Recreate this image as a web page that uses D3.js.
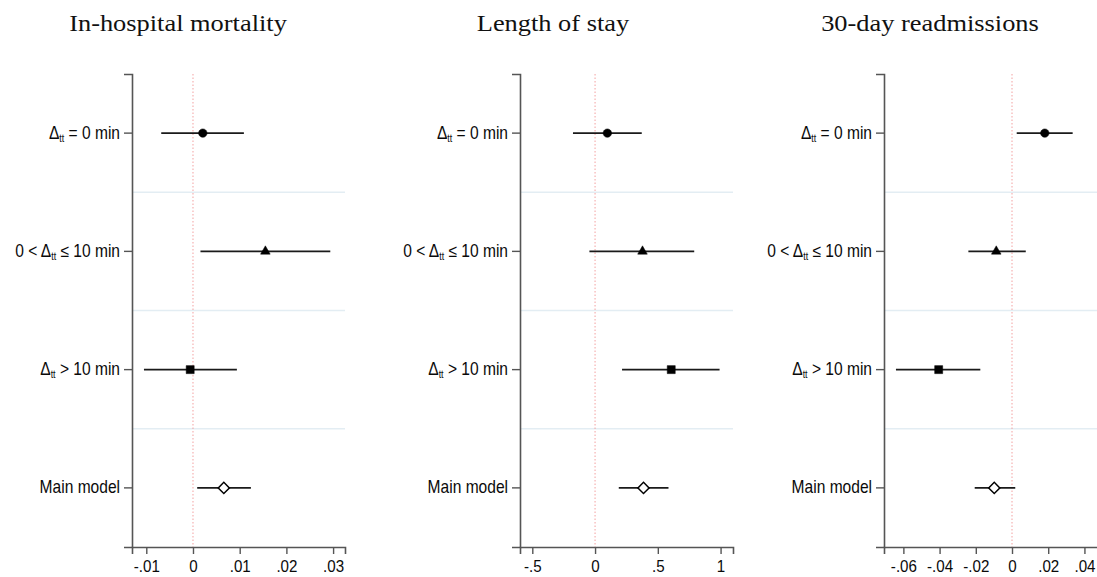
<!DOCTYPE html>
<html>
<head>
<meta charset="utf-8">
<script src="https://cdn.jsdelivr.net/npm/d3@7"></script>
<style>
  html, body { margin: 0; padding: 0; background: #fff; }
  svg { display: block; }
</style>
</head>
<body>
<div id="chart"></div>
<script>
// rows of the coefficient plot, top to bottom
const categories = ["eq0", "le10", "gt10", "main"];
const shapes = ["circle", "triangle", "square", "diamond"];

const titles = ["In-hospital mortality", "Length of stay", "30-day readmissions"];

// in-hospital mortality
const mortEst = [0.0021, 0.0155, -0.0006, 0.0066];
const mortLo = [-0.0068, 0.0016, -0.0105, 0.0009];
const mortHi = [0.0109, 0.0294, 0.0094, 0.0124];

// length of stay
const losEst = [0.098, 0.378, 0.607, 0.386];
const losLo = [-0.176, -0.045, 0.215, 0.189];
const losHi = [0.372, 0.790, 0.992, 0.585];

// 30-day readmissions
const readmEst = [0.0181, -0.0087, -0.0405, -0.0098];
const readmLo = [0.0026, -0.0241, -0.0641, -0.0206];
const readmHi = [0.0335, 0.0076, -0.0175, 0.0018];

const mortTicks = [-0.01, 0, 0.01, 0.02, 0.03];
const mortTickLabels = ["-.01", "0", ".01", ".02", ".03"];
const losTicks = [-0.5, 0, 0.5, 1];
const losTickLabels = ["-.5", "0", ".5", "1"];
const readmTicks = [-0.06, -0.04, -0.02, 0, 0.02, 0.04];
const readmTickLabels = ["-.06", "-.04", "-.02", "0", ".02", ".04"];

const width = 1097, height = 577;
const plotTop = 74, plotBottom = 547;
const squeeze = 0.89; // the sans labels are a bit condensed

const svg = d3.select("#chart").append("svg").attr("width", width).attr("height", height);

const panels = [
  { est: mortEst, lo: mortLo, hi: mortHi, ticks: mortTicks, labels: mortTickLabels, domain: [-0.01306, 0.03255], range: [132, 345], titleX: 178 },
  { est: losEst, lo: losLo, hi: losHi, ticks: losTicks, labels: losTickLabels, domain: [-0.598, 1.099], range: [520, 733], titleX: 553 },
  { est: readmEst, lo: readmLo, hi: readmHi, ticks: readmTicks, labels: readmTickLabels, domain: [-0.0707, 0.0486], range: [884, 1100], titleX: 930 }
];

function rowLabel(textSel, cat) {
  const t = textSel.text(null);
  const sub = (s) => t.append("tspan").attr("font-size", "10px").attr("dy", "3").text(s);
  const back = (s) => t.append("tspan").attr("dy", "-3").text(s);
  if (cat === "eq0") {
    t.append("tspan").text("\u0394"); sub("tt"); back(" = 0 min");
  } else if (cat === "le10") {
    t.append("tspan").text("0 < \u0394"); sub("tt"); back(" \u2264 10 min");
  } else if (cat === "gt10") {
    t.append("tspan").text("\u0394"); sub("tt"); back(" > 10 min");
  } else {
    t.append("tspan").text("Main model");
  }
}

const symbolOf = {
  circle: d3.symbol().type(d3.symbolCircle).size(56),
  triangle: d3.symbol().type(d3.symbolTriangle).size(40),
  square: d3.symbol().type(d3.symbolSquare).size(64),
  diamond: d3.symbol().type(d3.symbolSquare).size(62)
};

panels.forEach((p, pi) => {
  const g = svg.append("g");
  const x = d3.scaleLinear().domain(p.domain).range(p.range);
  const y = d3.scaleBand().domain(categories).range([plotTop, plotBottom]);
  const rows = categories.map((c, i) => ({ cat: c, shape: shapes[i], est: p.est[i], lo: p.lo[i], hi: p.hi[i] }));

  // separators between rows
  g.selectAll("line.sep").data(categories.slice(1)).join("line")
    .attr("class", "sep")
    .attr("x1", p.range[0]).attr("x2", p.range[1])
    .attr("y1", (d) => y(d)).attr("y2", (d) => y(d))
    .attr("stroke", "#e3edf3").attr("stroke-width", 1.5);

  // zero reference
  g.append("line")
    .attr("x1", x(0)).attr("x2", x(0)).attr("y1", plotTop).attr("y2", plotBottom)
    .attr("stroke", "#f3a0a0").attr("stroke-width", 1).attr("stroke-dasharray", "1.5,2");

  // confidence intervals
  g.selectAll("line.ci").data(rows).join("line")
    .attr("class", "ci")
    .attr("x1", (d) => x(d.lo)).attr("x2", (d) => x(d.hi))
    .attr("y1", (d) => y(d.cat) + y.bandwidth() / 2).attr("y2", (d) => y(d.cat) + y.bandwidth() / 2)
    .attr("stroke", "#1a1a1a").attr("stroke-width", 1.6);

  // point estimates
  g.selectAll("path.pt").data(rows).join("path")
    .attr("class", "pt")
    .attr("d", (d) => symbolOf[d.shape]())
    .attr("transform", (d) => `translate(${x(d.est)},${y(d.cat) + y.bandwidth() / 2})` + (d.shape === "diamond" ? " rotate(45)" : ""))
    .attr("fill", (d) => (d.shape === "diamond" ? "#fff" : "#000"))
    .attr("stroke", "#000")
    .attr("stroke-width", (d) => (d.shape === "diamond" ? 1.5 : 0.5));

  // axes
  const yAxis = g.append("g").attr("transform", `translate(${p.range[0]},0)`)
    .call(d3.axisLeft(y).tickSizeOuter(0).tickSize(8).tickPadding(4));
  yAxis.selectAll("text")
    .attr("font-family", "Liberation Sans, Arial, sans-serif").attr("font-size", "17.5px").attr("fill", "#0a0a0a")
    .attr("x", -12 / squeeze).attr("transform", `scale(${squeeze},1)`)
    .each(function (d) { rowLabel(d3.select(this), d); });

  const xAxis = g.append("g").attr("transform", `translate(0,${plotBottom})`)
    .call(d3.axisBottom(x).tickValues(p.ticks).tickFormat((d, i) => p.labels[i]).tickSizeOuter(0).tickSize(7).tickPadding(6));
  xAxis.selectAll("text")
    .attr("font-family", "Liberation Sans, Arial, sans-serif").attr("font-size", "17px").attr("fill", "#0a0a0a")
    .attr("transform", `scale(${squeeze},1)`)
    .attr("x", function () { return 0; });
  xAxis.selectAll(".tick").each(function () {
    // keep the squeezed label centred on its tick
    const tr = d3.select(this).attr("transform");
    const tx = +tr.match(/translate\(([-\d.]+)/)[1];
    d3.select(this).attr("transform", `translate(${tx},0)`);
  });

  [yAxis, xAxis].forEach((a) => {
    a.select(".domain").attr("stroke", "#555").attr("stroke-width", 1.6);
    a.selectAll(".tick line").attr("stroke", "#555").attr("stroke-width", 1.4);
  });

  g.append("text")
    .attr("transform", `translate(${p.titleX},31) scale(1.1,1)`)
    .attr("text-anchor", "middle")
    .attr("font-family", "Liberation Serif, Times New Roman, serif")
    .attr("font-size", "24px").attr("fill", "#111")
    .text(titles[pi]);
});
</script>
</body>
</html>
